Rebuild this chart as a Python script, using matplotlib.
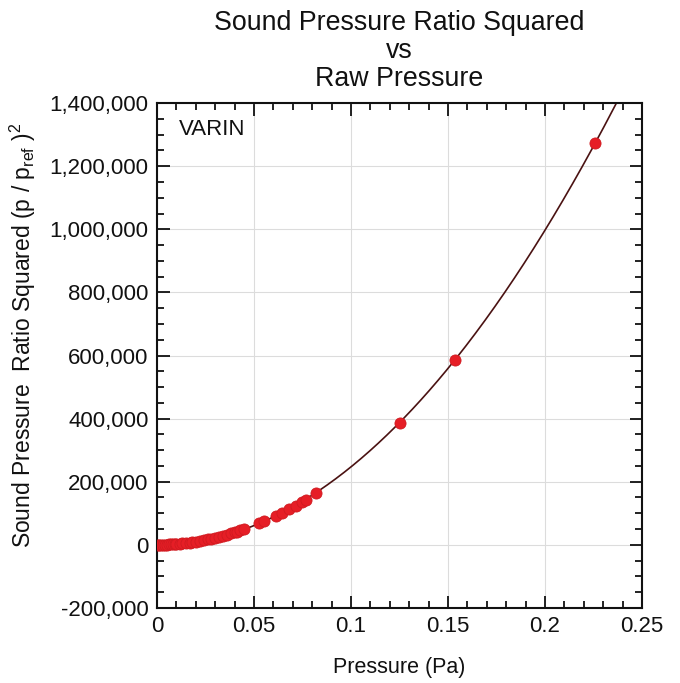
import numpy as np
import matplotlib
matplotlib.use("Agg")
import matplotlib.pyplot as plt
from matplotlib.ticker import MultipleLocator, FuncFormatter

plt.rcParams['font.family'] = ['Liberation Sans', 'DejaVu Sans']
plt.rcParams['mathtext.fontset'] = 'custom'
plt.rcParams['mathtext.rm'] = 'Liberation Sans'
plt.rcParams['mathtext.it'] = 'Liberation Sans'

# Data
pressure = [0.0005, 0.001, 0.002, 0.003, 0.004, 0.005, 0.006, 0.007, 0.008, 0.009,
            0.010, 0.012, 0.013, 0.015, 0.017, 0.018, 0.020, 0.022, 0.024, 0.026,
            0.028, 0.030, 0.032, 0.034, 0.036, 0.038, 0.040, 0.041, 0.043, 0.045,
            0.0526, 0.0552, 0.0612, 0.0646, 0.068, 0.0715, 0.0749, 0.0766, 0.0819,
            0.1250, 0.1535, 0.2260]
ratio_sq = [0, 0, 100, 200, 400, 600, 900, 1200, 1600, 2000,
            2500, 3600, 4200, 5600, 7200, 8100, 10000, 12000, 14000, 17000,
            19500, 22500, 25500, 29000, 32000, 36000, 40000, 42000, 46000, 50000,
            70000, 75000, 92000, 102000, 112000, 124000, 136000, 142000, 165000,
            386000, 586000, 1275000]

x_ticks = [0, 0.05, 0.1, 0.15, 0.2, 0.25]
x_tick_labels = ["0", "0.05", "0.1", "0.15", "0.2", "0.25"]
y_ticks = [-200000, 0, 200000, 400000, 600000, 800000, 1000000, 1200000, 1400000]

fig = plt.figure(figsize=(6.8, 6.83), dpi=100)
ax = fig.add_axes([0.231, 0.110, 0.713, 0.739])

# quadratic fit curve (as in the original plot's fit line)
coef = np.polyfit(pressure, ratio_sq, 2)
xf = np.linspace(0, 0.25, 400)
ax.plot(xf, np.polyval(coef, xf), color="#4a1212", lw=1.2, zorder=2)

ax.plot(pressure, ratio_sq, 'o', ms=8, color="#e61e26", mec="#d01a20", mew=0.6, zorder=3)

ax.set_xlim(0, 0.25)
ax.set_ylim(-200000, 1400000)
ax.set_xticks(x_ticks)
ax.set_xticklabels(x_tick_labels)
ax.set_yticks(y_ticks)
ax.yaxis.set_major_formatter(FuncFormatter(lambda v, p: f"{v:,.0f}"))
ax.xaxis.set_minor_locator(MultipleLocator(0.01))
ax.yaxis.set_minor_locator(MultipleLocator(50000))

ax.tick_params(which='both', direction='in', top=True, right=True, width=1.3,
               colors='#111111')
ax.tick_params(axis='y', labelsize=16)
ax.tick_params(axis='x', labelsize=16)
ax.tick_params(which='major', length=9, pad=6)
ax.tick_params(which='minor', length=5)
for s in ax.spines.values():
    s.set_linewidth(1.5)
    s.set_color('#111111')

ax.grid(True, which='major', color='#dcdcdc', lw=0.8)
ax.set_axisbelow(True)

ax.text(0.045, 0.968, "VARIN", transform=ax.transAxes, fontsize=16,
        va='top', ha='left', color='#111111')

ax.set_xlabel("Pressure (Pa)", fontsize=15.5, labelpad=14, color='#111111')
ax.set_ylabel(r"Sound Pressure  Ratio Squared (p / p$_{\rm ref}$ )$^2$", fontsize=16.5,
              color='#111111')
ax.yaxis.set_label_coords(-0.245, 0.54)
fig.text(0.5875, 0.985, "Sound Pressure Ratio Squared\nvs\nRaw Pressure",
         ha='center', va='top', fontsize=19.3, linespacing=1.1, color='#111111')

fig.savefig("out.png", dpi=100)
